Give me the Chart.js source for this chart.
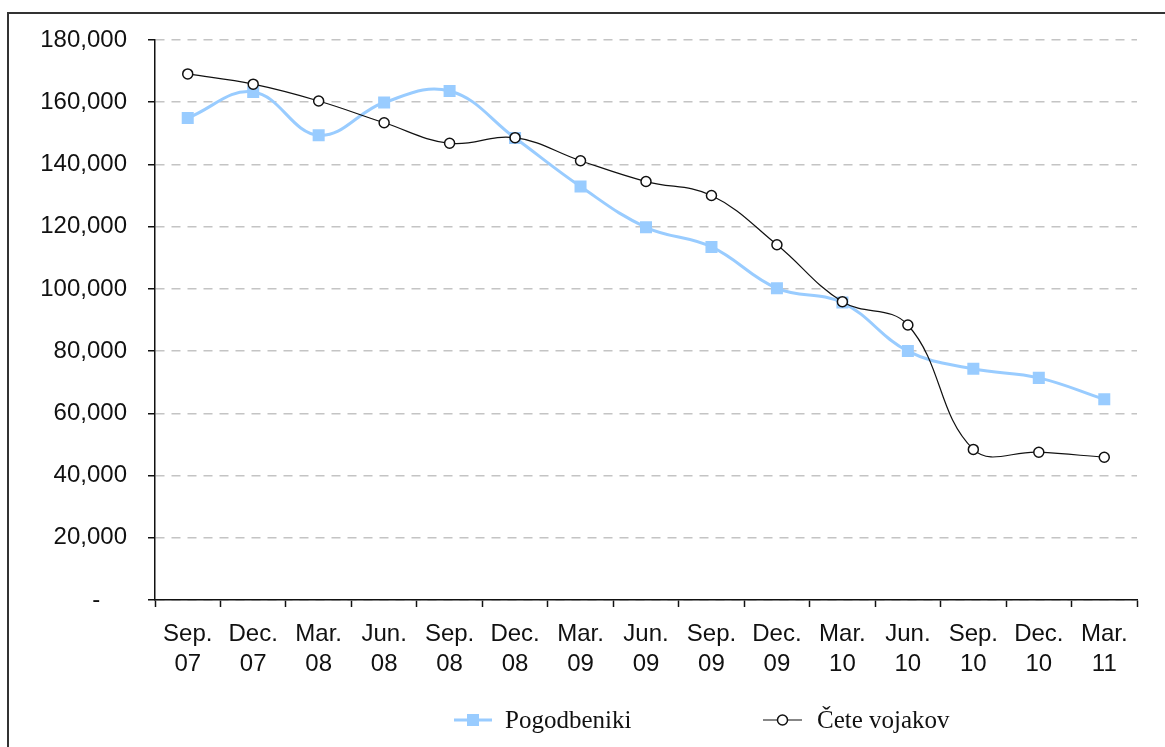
<!DOCTYPE html>
<html>
<head>
<meta charset="utf-8">
<script src="https://cdn.jsdelivr.net/npm/chart.js@4/dist/chart.umd.min.js"></script>
<style>
  html, body { margin: 0; padding: 0; background: #fff; }
  #wrap { position: relative; width: 1165px; height: 747px; overflow: hidden; }
  #frame { position: absolute; left: 7px; top: 12px; width: 1200px; height: 800px;
           border-left: 2px solid #333; border-top: 2px solid #333; box-sizing: border-box; }
  canvas { position: absolute; left: 0; top: 0; }
</style>
</head>
<body>
<div id="wrap">
  <div id="frame"></div>
  <canvas id="c" width="1165" height="747"></canvas>
</div>
<script>
const categories = [
  ["Sep.", "07"], ["Dec.", "07"], ["Mar.", "08"], ["Jun.", "08"], ["Sep.", "08"],
  ["Dec.", "08"], ["Mar.", "09"], ["Jun.", "09"], ["Sep.", "09"], ["Dec.", "09"],
  ["Mar.", "10"], ["Jun.", "10"], ["Sep.", "10"], ["Dec.", "10"], ["Mar.", "11"]
];
const seriesNames = ["Pogodbeniki", "Čete vojakov"];
const pogodbeniki = [154900, 163300, 149400, 159900, 163600, 148500, 132900, 119800, 113500, 100200, 95600, 80000, 74300, 71400, 64500];
const ceteVojakov = [169100, 165800, 160400, 153400, 146800, 148600, 141200, 134500, 130000, 114200, 95900, 88400, 48400, 47500, 45900];
const yTickValues = [0, 20000, 40000, 60000, 80000, 100000, 120000, 140000, 160000, 180000];

const BLUE = '#99ccff';

// Legend drawn as line + marker + serif text, like the original
const legendPlugin = {
  id: 'customLegend',
  afterDraw(chart) {
    const ctx = chart.ctx;
    const ds = chart.data.datasets;
    const y = 720;
    const items = [
      { d: ds[0], x0: 454, x1: 492, tx: 505 },
      { d: ds[1], x0: 763, x1: 802, tx: 817 }
    ];
    ctx.save();
    items.forEach(it => {
      ctx.beginPath();
      ctx.strokeStyle = it.d.borderColor;
      ctx.lineWidth = it.d.borderWidth;
      ctx.moveTo(it.x0, y);
      ctx.lineTo(it.x1, y);
      ctx.stroke();
      ctx.fillStyle = it.d.pointBackgroundColor;
      ctx.strokeStyle = it.d.pointBorderColor;
      ctx.lineWidth = it.d.pointBorderWidth;
      Chart.helpers.drawPoint(ctx, {
        pointStyle: it.d.pointStyle,
        radius: it.d.pointRadius,
        borderWidth: it.d.pointBorderWidth,
        rotation: 0
      }, (it.x0 + it.x1) / 2, y);
      ctx.fillStyle = '#111';
      ctx.font = '25px "Liberation Serif", "Times New Roman", serif';
      ctx.textBaseline = 'middle';
      ctx.textAlign = 'left';
      ctx.fillText(it.d.label, it.tx, y + 1);
    });
    ctx.restore();
  }
};

new Chart(document.getElementById('c'), {
  type: 'line',
  data: {
    labels: categories,
    datasets: [
      {
        label: seriesNames[0],
        data: pogodbeniki,
        borderColor: BLUE,
        borderWidth: 3,
        pointStyle: 'rect',
        pointRadius: 8.5,
        pointBackgroundColor: BLUE,
        pointBorderColor: BLUE,
        pointBorderWidth: 0,
        tension: 0.4,
        order: 1
      },
      {
        label: seriesNames[1],
        data: ceteVojakov,
        borderColor: '#111',
        borderWidth: 1.2,
        pointStyle: 'circle',
        pointRadius: 5,
        pointBackgroundColor: '#fff',
        pointBorderColor: '#111',
        pointBorderWidth: 1.5,
        tension: 0.4,
        order: 0
      }
    ]
  },
  options: {
    responsive: false,
    animation: false,
    layout: { padding: { top: 40, left: 0, right: 28, bottom: 57 } },
    plugins: { legend: { display: false }, tooltip: { enabled: false } },
    scales: {
      x: {
        offset: true,
        grid: { offset: true, drawOnChartArea: false, drawTicks: true, tickLength: 7, tickColor: '#111', tickWidth: 1.5 },
        border: { display: true, color: '#111', width: 1.5 },
        ticks: {
          color: '#111', padding: 12, maxRotation: 0, autoSkip: false,
          font: { family: '"Liberation Sans", Arial, sans-serif', size: 24, lineHeight: 1.25 }
        },
        afterFit(scale) { scale.height = 90; }
      },
      y: {
        min: 0, max: 180000,
        afterBuildTicks(scale) { scale.ticks = yTickValues.map(v => ({ value: v })); },
        grid: { color: '#c4c4c4', lineWidth: 1.5, drawTicks: true, tickLength: 7, tickColor: '#111', tickWidth: 1.5, tickBorderDash: [] },
        border: { display: true, color: '#111', width: 1.5, dash: [9, 7] },
        ticks: {
          color: '#111', padding: 21,
          font: { family: '"Liberation Sans", Arial, sans-serif', size: 24 },
          callback(v) { return v === 0 ? '-    ' : v.toLocaleString('en-US'); }
        },
        afterFit(scale) { scale.width = 155; }
      }
    }
  },
  plugins: [legendPlugin]
});
</script>
</body>
</html>
